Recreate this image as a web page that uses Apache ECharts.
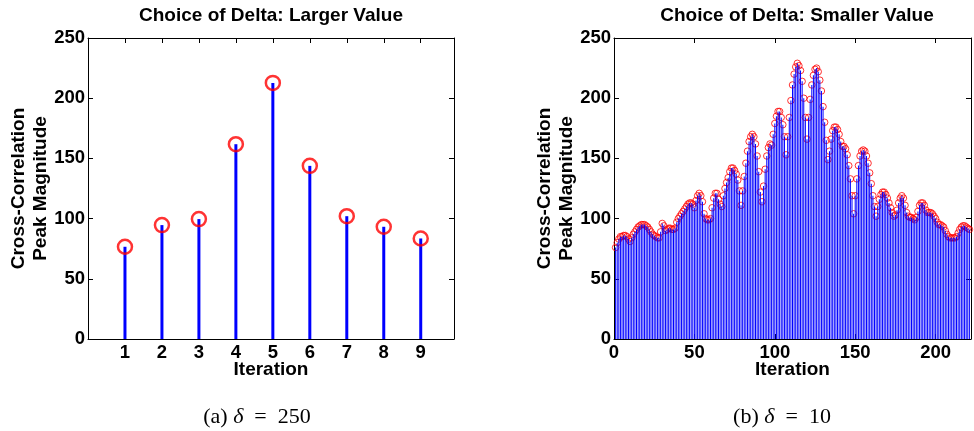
<!DOCTYPE html>
<html>
<head>
<meta charset="utf-8">
<script src="https://cdn.jsdelivr.net/npm/echarts@6/dist/echarts.min.js"></script>
<style>
  html, body { margin: 0; padding: 0; background: #ffffff; }
  #chart { width: 974px; height: 431px; }
</style>
</head>
<body>
<div id="chart"></div>
<script>
// Stem plot (a): peak magnitude per iteration, delta = 250
const iterLarge = [1, 2, 3, 4, 5, 6, 7, 8, 9];
const peakLarge = [76.6, 94.6, 99.6, 161.8, 212.7, 143.8, 102, 93.2, 83.5];

// Stem plot (b): peak magnitude per iteration, delta = 10
const peakSmall = [
  76, 80, 83, 85, 85, 86, 86, 85, 83, 81,
  84, 87, 89, 91, 93, 94, 95, 95, 95, 94,
  93, 91, 89, 87, 86, 85, 84, 84, 89, 96,
  94, 90, 91, 92, 92, 91, 91, 92, 97, 100,
  102, 104, 106, 108, 110, 112, 113, 113, 112, 109,
  115, 119, 121, 119, 114, 104, 100, 99, 99, 100,
  109, 117, 121, 121, 116, 112, 110, 119, 125, 130,
  134, 139, 142, 142, 140, 137, 132, 123, 111, 123,
  135, 146, 156, 164, 168, 170, 168, 162, 152, 139,
  122, 114, 127, 141, 152, 159, 162, 161, 170, 179,
  185, 189, 189, 184, 178, 168, 153, 168, 184, 198,
  211, 220, 226, 229, 227, 223, 214, 200, 184, 166,
  184, 199, 211, 219, 224, 225, 222, 215, 206, 193,
  180, 165, 149, 156, 166, 173, 176, 176, 174, 170,
  164, 160, 160, 158, 153, 144, 133, 119, 104, 119,
  133, 144, 152, 156, 157, 156, 152, 146, 138, 129,
  119, 110, 102, 110, 116, 120, 122, 122, 120, 117,
  113, 109, 105, 102, 103, 107, 113, 117, 119, 117,
  111, 105, 102, 101, 101, 100, 99, 101, 106, 111,
  113, 113, 111, 107, 105, 105, 105, 104, 102, 100,
  97, 95, 95, 94, 93, 90, 87, 85, 84, 84,
  84, 84, 85, 88, 91, 93, 94, 94, 93, 92,
  91
];
const iterSmall = peakSmall.map((_, k) => k + 1);

const yTicks = { min: 0, max: 250, interval: 50 };
const xTicksLarge = { min: 0, max: 9.9, interval: 1 };
const xTicksSmall = { min: 0, max: 222, interval: 50 };

const FONT = 'Liberation Sans, Arial, Helvetica, sans-serif';
const SERIF = 'Liberation Serif, Times New Roman, serif';
const BLACK = '#000000';

const pairs = (xs, ys) => xs.map((x, k) => [x, ys[k]]);

function xAxisPair(gridIndex, ticks, labelFilter) {
  const base = {
    gridIndex: gridIndex,
    type: 'value',
    min: ticks.min,
    max: ticks.max,
    interval: ticks.interval,
    splitLine: { show: false },
    axisLine: { show: true, onZero: false, lineStyle: { color: BLACK, width: 1 } },
    axisTick: { show: true, inside: true, length: 5, lineStyle: { color: BLACK, width: 1 } }
  };
  return [
    Object.assign({}, base, {
      position: 'bottom',
      name: 'Iteration',
      nameLocation: 'middle',
      nameGap: 21,
      nameMoveOverlap: false,
      nameTextStyle: { fontFamily: FONT, fontWeight: 'bold', fontSize: 19, color: BLACK },
      axisLabel: {
        margin: 4,
        fontFamily: FONT, fontWeight: 'bold', fontSize: 18.5, color: BLACK,
        formatter: labelFilter
      }
    }),
    Object.assign({}, base, {
      position: 'top',
      axisLabel: { show: false }
    })
  ];
}

function yAxisPair(gridIndex) {
  const base = {
    gridIndex: gridIndex,
    type: 'value',
    min: yTicks.min,
    max: yTicks.max,
    interval: yTicks.interval,
    splitLine: { show: false },
    axisLine: { show: true, onZero: false, lineStyle: { color: BLACK, width: 1 } },
    axisTick: { show: true, inside: true, length: 5, lineStyle: { color: BLACK, width: 1 } }
  };
  return [
    Object.assign({}, base, {
      position: 'left',
      name: 'Cross-Correlation\nPeak Magnitude',
      nameLocation: 'middle',
      nameGap: 36,
      nameMoveOverlap: false,
      nameTextStyle: { fontFamily: FONT, fontWeight: 'bold', fontSize: 19, color: BLACK, lineHeight: 22 },
      axisLabel: { margin: 3, fontFamily: FONT, fontWeight: 'bold', fontSize: 18.5, color: BLACK }
    }),
    Object.assign({}, base, {
      position: 'right',
      axisLabel: { show: false }
    })
  ];
}

const chart = echarts.init(document.getElementById('chart'), null, { renderer: 'canvas' });

const captionStyle = (label, value) => ({
  text: label + ' {i|δ}  =  ' + value,
  fontFamily: SERIF, fontSize: 22, fill: BLACK,
  align: 'center', verticalAlign: 'middle',
  rich: { i: { fontFamily: SERIF, fontStyle: 'italic', fontSize: 22, fill: BLACK } }
});

chart.setOption({
  animation: false,
  backgroundColor: '#ffffff',
  title: [
    {
      text: 'Choice of Delta: Larger Value',
      left: 271, top: 6, padding: 0, textAlign: 'center',
      textStyle: { fontFamily: FONT, fontWeight: 'bold', fontSize: 19, color: BLACK }
    },
    {
      text: 'Choice of Delta: Smaller Value',
      left: 797, top: 6, padding: 0, textAlign: 'center',
      textStyle: { fontFamily: FONT, fontWeight: 'bold', fontSize: 19, color: BLACK }
    }
  ],
  grid: [
    { left: 88, top: 38, width: 366, height: 301, containLabel: false },
    { left: 614, top: 38, width: 366.7, height: 301, containLabel: false }
  ],
  xAxis: [].concat(
    xAxisPair(0, xTicksLarge, v => (v >= 1 && v <= 9 && Number.isInteger(v)) ? String(v) : ''),
    xAxisPair(1, xTicksSmall, v => (v % 50 === 0) ? String(v) : '')
  ),
  yAxis: [].concat(yAxisPair(0), yAxisPair(1)),
  series: [
    {
      type: 'bar',
      xAxisIndex: 0, yAxisIndex: 0,
      data: pairs(iterLarge, peakLarge),
      barWidth: 3,
      itemStyle: { color: '#0000ff' },
      silent: true, z: 2
    },
    {
      type: 'scatter',
      xAxisIndex: 0, yAxisIndex: 0,
      data: pairs(iterLarge, peakLarge),
      symbol: 'circle',
      symbolSize: 14,
      itemStyle: { color: 'rgba(255,255,255,0)', borderColor: '#ff0000', borderWidth: 2.5 },
      silent: true, z: 3
    },
    {
      type: 'scatter',
      xAxisIndex: 2, yAxisIndex: 2,
      data: pairs(iterSmall, peakSmall),
      symbol: 'circle',
      symbolSize: 6.5,
      itemStyle: { color: 'rgba(255,255,255,0)', borderColor: '#ff0000', borderWidth: 1 },
      silent: true, z: 1
    },
    {
      type: 'bar',
      xAxisIndex: 2, yAxisIndex: 2,
      data: pairs(iterSmall, peakSmall),
      barWidth: 1,
      itemStyle: { color: '#0000ff' },
      silent: true, z: 2
    }
  ],
  graphic: [
    { type: 'text', x: 257, y: 417, style: captionStyle('(a)', '250') },
    { type: 'text', x: 782, y: 417, style: captionStyle('(b)', '10') }
  ]
});
</script>
</body>
</html>
